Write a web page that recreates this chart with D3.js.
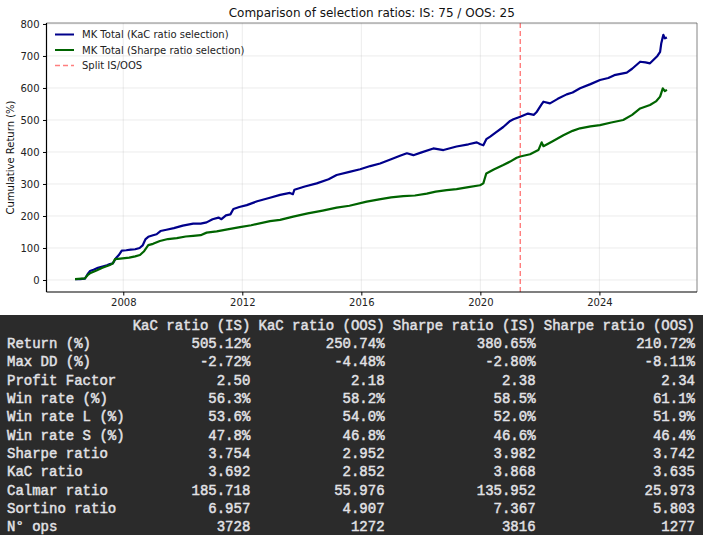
<!DOCTYPE html>
<html><head><meta charset="utf-8">
<script src="https://cdn.jsdelivr.net/npm/d3@7"></script>
<style>body{margin:0;background:#fff}svg{display:block}</style>
</head><body>
<svg id="c" width="703" height="535"></svg>
<script>
const title = "Comparison of selection ratios: IS: 75 / OOS: 25";
const yLabel = "Cumulative Return (%)";
const xTicks = [2008, 2012, 2016, 2020, 2024];
const yTicks = [0, 100, 200, 300, 400, 500, 600, 700, 800];
const splitYear = 2021.34;
const seriesNames = ["MK Total (KaC ratio selection)", "MK Total (Sharpe ratio selection)", "Split IS/OOS"];

const kacYears = [2006.38,2006.55,2006.71,2006.80,2006.88,2007.00,2007.15,2007.30,2007.45,2007.55,2007.65,2007.75,2007.85,2007.95,2008.10,2008.25,2008.40,2008.55,2008.65,2008.75,2008.84,2009.00,2009.12,2009.25,2009.45,2009.70,2010.00,2010.35,2010.60,2010.80,2011.00,2011.20,2011.30,2011.45,2011.60,2011.70,2011.90,2012.15,2012.50,2012.93,2013.27,2013.60,2013.70,2013.75,2014.10,2014.50,2014.90,2015.17,2015.60,2015.96,2016.30,2016.63,2017.00,2017.30,2017.53,2017.75,2018.00,2018.42,2018.76,2019.20,2019.60,2019.88,2020.00,2020.10,2020.20,2020.33,2020.50,2020.77,2021.00,2021.11,2021.34,2021.60,2021.80,2021.90,2022.05,2022.12,2022.34,2022.60,2022.90,2023.10,2023.35,2023.70,2024.02,2024.30,2024.50,2024.92,2025.10,2025.37,2025.55,2025.70,2025.95,2026.04,2026.08,2026.12,2026.15,2026.20,2026.27];
const kacValues = [3,3,4,18,28,32,38,42,46,50,52,68,78,92,93,95,96,100,108,128,135,140,143,153,157,162,170,176,176,180,190,195,190,202,205,222,228,234,246,257,266,272,268,282,292,302,315,328,338,346,356,364,377,388,396,390,398,411,406,417,424,430,424,421,440,448,460,478,497,502,510,520,516,526,548,557,552,566,580,586,599,612,625,631,640,648,660,682,680,677,700,713,740,755,766,755,758];

const sharpeYears = [2006.38,2006.71,2006.80,2006.88,2007.10,2007.30,2007.55,2007.65,2007.72,2007.90,2008.20,2008.40,2008.56,2008.70,2008.84,2009.00,2009.23,2009.50,2009.80,2010.10,2010.35,2010.60,2010.80,2011.14,2011.50,2011.92,2012.30,2012.93,2013.27,2013.71,2014.20,2014.70,2015.17,2015.60,2016.18,2016.60,2017.00,2017.41,2017.80,2018.20,2018.50,2018.87,2019.20,2019.60,2019.99,2020.10,2020.15,2020.20,2020.45,2020.77,2021.00,2021.22,2021.34,2021.67,2021.95,2022.06,2022.12,2022.40,2022.79,2023.10,2023.35,2023.70,2024.02,2024.40,2024.80,2025.10,2025.37,2025.70,2025.90,2026.04,2026.10,2026.13,2026.20,2026.27];
const sharpeValues = [3,5,15,21,30,38,47,52,65,67,70,74,78,90,109,113,122,128,131,136,138,140,148,152,158,165,171,184,188,198,208,217,226,232,245,252,258,262,264,270,276,281,284,290,296,302,318,333,345,359,370,382,386,393,406,430,418,432,452,466,474,480,484,492,500,516,536,547,558,573,590,599,590,594];

const tableHeaders = ["KaC ratio (IS)", "KaC ratio (OOS)", "Sharpe ratio (IS)", "Sharpe ratio (OOS)"];
const tableRowLabels = ["Return (%)","Max DD (%)","Profit Factor","Win rate (%)","Win rate L (%)","Win rate S (%)","Sharpe ratio","KaC ratio","Calmar ratio","Sortino ratio","N\u00b0 ops"];
const colKacIS = ["505.12%","-2.72%","2.50","56.3%","53.6%","47.8%","3.754","3.692","185.718","6.957","3728"];
const colKacOOS = ["250.74%","-4.48%","2.18","58.2%","54.0%","46.8%","2.952","2.852","55.976","4.907","1272"];
const colSharpeIS = ["380.65%","-2.80%","2.38","58.5%","52.0%","46.6%","3.982","3.868","135.952","7.367","3816"];
const colSharpeOOS = ["210.72%","-8.11%","2.34","61.1%","51.9%","46.4%","3.742","3.635","25.973","5.803","1277"];

const svg = d3.select("#c");
const m = {l:46.5, r:697, t:23, b:292};
const x = d3.scaleLinear().domain([2005.42, 2027.28]).range([m.l, m.r]);
const y = d3.scaleLinear().domain([-37.5, 803]).range([m.b, m.t]);
const font = "DejaVu Sans, sans-serif";

// grid
const g = svg.append("g");
g.selectAll(".gx").data(xTicks).join("line")
  .attr("x1", d=>x(d)).attr("x2", d=>x(d)).attr("y1", m.t).attr("y2", m.b)
  .attr("stroke", "#b0b0b0").attr("stroke-opacity", 0.3).attr("stroke-width", 0.8);
g.selectAll(".gy").data(yTicks).join("line")
  .attr("y1", d=>y(d)).attr("y2", d=>y(d)).attr("x1", m.l).attr("x2", m.r)
  .attr("stroke", "#b0b0b0").attr("stroke-opacity", 0.3).attr("stroke-width", 0.8);

// lines
const line = d3.line().x(d=>x(d[0])).y(d=>y(d[1]));
svg.append("path").datum(d3.zip(kacYears, kacValues)).attr("d", line)
  .attr("fill","none").attr("stroke","#00008b").attr("stroke-width",2.2).attr("stroke-linejoin","round");
svg.append("path").datum(d3.zip(sharpeYears, sharpeValues)).attr("d", line)
  .attr("fill","none").attr("stroke","#006400").attr("stroke-width",2.2).attr("stroke-linejoin","round");
svg.append("line").attr("x1", x(splitYear)).attr("x2", x(splitYear)).attr("y1", m.t).attr("y2", m.b)
  .attr("stroke","#ff0000").attr("stroke-opacity",0.6).attr("stroke-width",1.2).attr("stroke-dasharray","5,3");

// frame
svg.append("line").attr("x1",m.l).attr("x2",m.r).attr("y1",m.t).attr("y2",m.t).attr("stroke","#666").attr("stroke-width",0.8);
svg.append("line").attr("x1",m.r).attr("x2",m.r).attr("y1",m.t).attr("y2",m.b).attr("stroke","#666").attr("stroke-width",0.8);

// axes
const xAxis = svg.append("g").attr("transform",`translate(0,${m.b})`)
  .call(d3.axisBottom(x).tickValues(xTicks).tickFormat(d3.format("d")).tickSize(3.5).tickPadding(3.5));
const yAxis = svg.append("g").attr("transform",`translate(${m.l},0)`)
  .call(d3.axisLeft(y).tickValues(yTicks).tickSize(3.5).tickPadding(3.5));
[xAxis, yAxis].forEach(a => {
  a.select(".domain").attr("stroke","#000").attr("stroke-width",1.2);
  a.selectAll(".tick line").attr("stroke","#000");
  a.selectAll("text").attr("font-family", font).attr("font-size", 10).attr("fill","#222");
});
yAxis.select(".domain").attr("d", `M0,${m.b}V${m.t}`);
xAxis.select(".domain").attr("d", `M${m.l},0H${m.r}`);

// title & label
svg.append("text").attr("x",(m.l+m.r)/2).attr("y",17).attr("text-anchor","middle")
  .attr("font-family",font).attr("font-size",12).attr("fill","#111").text(title);
svg.append("text").attr("transform",`translate(14,${(m.t+m.b)/2}) rotate(-90)`).attr("text-anchor","middle")
  .attr("font-family",font).attr("font-size",10).attr("fill","#111").text(yLabel);

// legend
const legColors = ["#00008b","#006400","#ff0000"];
const lg = svg.append("g");
seriesNames.forEach((n,i)=>{
  const yy = 34.5 + i*15.5;
  lg.append("line").attr("x1",55).attr("x2",74).attr("y1",yy).attr("y2",yy)
    .attr("stroke",legColors[i]).attr("stroke-width", i<2?2:1.5)
    .attr("stroke-opacity", i<2?1:0.5).attr("stroke-dasharray", i<2?null:"5,3");
  lg.append("text").attr("x",82).attr("y",yy+3.5).attr("font-family",font).attr("font-size",10).attr("fill","#222").text(n);
});

// table
const tbTop = 315;
svg.append("rect").attr("x",0).attr("y",tbTop).attr("width",703).attr("height",535-tbTop).attr("fill","#2b2b2b");
const cw = 8.39, x0 = 7;
const colEnds = [29, 45, 63, 82];
const cols = [colKacIS, colKacOOS, colSharpeIS, colSharpeOOS];
const mono = "Liberation Mono, DejaVu Sans Mono, monospace";
const tcol = "#e2e2e6";
const rowY = i => 329.5 + i*18.35;
const tg = svg.append("g").attr("font-family",mono).attr("font-size",14).attr("fill",tcol)
  .attr("stroke",tcol).attr("stroke-width",0.45);
tableHeaders.forEach((h,j)=>{
  tg.append("text").attr("x",x0+colEnds[j]*cw).attr("y",rowY(0)).attr("text-anchor","end").text(h);
});
tableRowLabels.forEach((lab,i)=>{
  tg.append("text").attr("x",x0).attr("y",rowY(i+1)).text(lab);
  cols.forEach((c,j)=>{
    tg.append("text").attr("x",x0+colEnds[j]*cw).attr("y",rowY(i+1)).attr("text-anchor","end").text(c[i]);
  });
});
</script>
</body></html>
